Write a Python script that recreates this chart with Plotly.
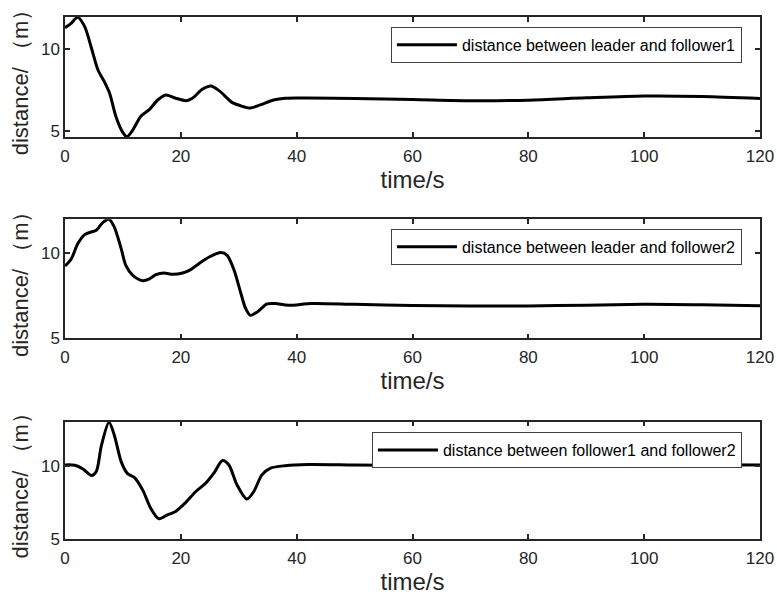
import plotly.graph_objects as go

# ---- data ----
t1 = [0, 1.0, 2.2, 3.4, 4.5, 5.7, 6.8, 7.7, 8.8, 10.0, 10.7, 11.7, 13.1, 14.6, 16.0, 17.4, 19.1, 20.9, 22.0,
      23.7, 25.2, 26.6, 28.9, 30.3, 32.0, 33.7, 36.0, 38.0, 42, 50, 60, 70, 80, 90, 100, 110, 120]
d1 = [11.3, 11.55, 11.93, 11.36, 10.14, 8.72, 8.0, 7.3, 5.87, 4.9, 4.65, 5.06, 5.9, 6.32, 6.89, 7.2, 7.0, 6.85, 7.0,
      7.54, 7.74, 7.46, 6.73, 6.54, 6.40, 6.59, 6.89, 7.0, 7.01, 6.98, 6.92, 6.85, 6.88, 7.02, 7.13, 7.1, 6.98]

t2 = [0, 1.1, 2.2, 3.4, 4.5, 5.4, 6.5, 7.6, 8.5, 9.7, 10.5, 11.7, 13.4, 14.6, 15.7, 17.1, 18.6, 20.3, 21.7,
      23.1, 24.9, 26.9, 28.0, 29.2, 30.3, 31.2, 32.0, 33.2, 34.9, 36.3, 38.6, 42.6, 50, 60, 70, 80, 90, 100, 110, 120]
d2 = [9.25, 9.68, 10.56, 11.1, 11.25, 11.35, 11.8, 12.0, 11.55, 10.27, 9.29, 8.7, 8.39, 8.5, 8.74, 8.84, 8.76, 8.84, 9.04,
      9.39, 9.78, 10.04, 9.88, 9.0, 7.72, 6.74, 6.35, 6.55, 7.02, 7.04, 6.94, 7.05, 7.0, 6.93, 6.9, 6.9, 6.95, 7.0, 6.97, 6.92]

t3 = [0, 1.7, 3.1, 4.6, 5.4, 6.3, 7.6, 8.5, 9.7, 10.8, 12.0, 13.4, 14.8, 16.2, 17.7, 19.1, 20.9, 22.6, 24.3,
      25.7, 27.2, 28.3, 29.7, 31.4, 32.6, 34.0, 35.5, 38.0, 42, 50, 60, 70, 80, 90, 100, 110, 120]
d3 = [10.05, 10.03, 9.78, 9.33, 9.6, 11.4, 12.96, 12.1, 10.28, 9.46, 9.19, 8.35, 7.1, 6.38, 6.65, 6.88, 7.52, 8.24, 8.81,
      9.49, 10.35, 10.05, 8.69, 7.72, 8.24, 9.37, 9.83, 10.0, 10.08, 10.05, 10.02, 10.0, 10.02, 10.05, 10.07, 10.06, 10.04]

names = ["distance between leader and follower1",
         "distance between leader and follower2",
         "distance between follower1 and follower2"]
yranges = [[4.63, 11.95], [5, 12], [5, 13]]
x_ticks = [0, 20, 40, 60, 80, 100, 120]
y_ticks = [5, 10]

# ---- figure ----
fig = go.Figure()
series = [(t1, d1), (t2, d2), (t3, d3)]
domains = [[0.770, 1.0], [0.3845, 0.6125], [0.0, 0.2247]]
legend_tops = [0.981, 0.594, 0.205]
axis_color = "#262626"
fam = "Arial, Liberation Sans, sans-serif"
tick_font = dict(family=fam, size=17, color=axis_color)
xtitle_font = dict(family=fam, size=24, color=axis_color)
ytitle_font = dict(family=fam, size=22, color=axis_color)

for i, (t, d) in enumerate(series):
    sfx = "" if i == 0 else str(i + 1)
    fig.add_trace(go.Scatter(
        x=t, y=d, mode="lines", name=names[i],
        line=dict(color="black", width=3, shape="spline", smoothing=0.8),
        xaxis="x" + sfx, yaxis="y" + sfx,
        legend="legend" + sfx, showlegend=True,
    ))
    common = dict(showline=True, mirror="ticks", linecolor=axis_color, linewidth=1.5,
                  ticks="inside", ticklen=5, tickwidth=1.5, tickcolor=axis_color,
                  showgrid=False, zeroline=False, tickfont=tick_font, automargin=False)
    fig.update_layout(**{
        "xaxis" + sfx: dict(domain=[0, 1], anchor="y" + sfx, range=[0, 120],
                             tickvals=x_ticks, ticktext=[str(v) for v in x_ticks],
                             ticklabelstandoff=3,
                             title=dict(text="time/s", font=xtitle_font, standoff=4), **common),
        "yaxis" + sfx: dict(domain=domains[i], anchor="x" + sfx, range=yranges[i],
                             tickvals=y_ticks, ticktext=[str(v) for v in y_ticks],
                             title=dict(text="distance/ （m）", font=ytitle_font, standoff=6), **common),
        "legend" + sfx: dict(x=0.974, y=legend_tops[i], xanchor="right", yanchor="top",
                              bgcolor="white", bordercolor="#404040", borderwidth=1,
                              font=dict(family=fam, size=16, color="black"),
                              itemwidth=60, tracegroupgap=0),
    })

fig.update_layout(
    width=777, height=602,
    margin=dict(l=65, r=17, t=17, b=63),
    paper_bgcolor="white", plot_bgcolor="white",
)

fig.write_html("out.html")
